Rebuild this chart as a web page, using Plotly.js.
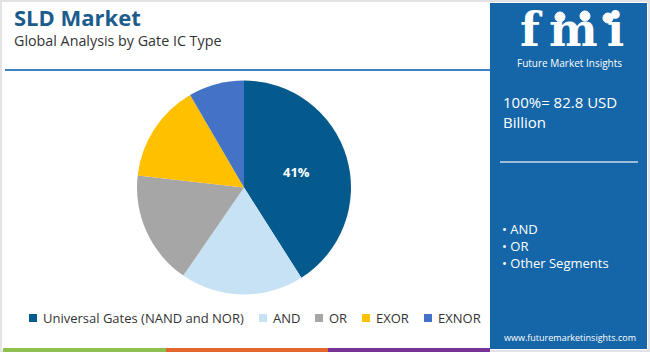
<!DOCTYPE html>
<html>
<head>
<meta charset="utf-8">
<script src="https://cdn.plot.ly/plotly-3.0.1.min.js"></script>
<style>
html,body{margin:0;padding:0;background:#fff;}
#chart{width:650px;height:352px;}
</style>
</head>
<body>
<div id="chart"></div>
<script>
const categories = ["Universal Gates (NAND and NOR)", "AND", "OR", "EXOR", "EXNOR"];
const shares = [41, 18.6, 17.2, 14.8, 8.4];
const sliceColors = ["#045a8d", "#c6e2f4", "#a6a6a6", "#ffc000", "#4472c4"];
const sliceLabels = ["%{percent:.0%}", "", "", "", ""];
const panelTotal = "100%= 82.8 USD<br>Billion";
const panelSegments = ["AND", "OR", "Other Segments"];

const W = 650, H = 352;
const px = x => x / W;
const py = y => 1 - y / H;
const panel = "#1566a8";

const shapes = [
  {type:"rect", xref:"paper", yref:"paper", x0:0, x1:1, y0:0, y1:1, line:{color:"#e3e3e3", width:4}, fillcolor:"rgba(0,0,0,0)", layer:"below"},
  {type:"rect", xref:"paper", yref:"paper", x0:px(490), x1:px(647), y0:py(349), y1:py(3), line:{width:0}, fillcolor:panel, layer:"below"},
  {type:"line", xref:"paper", yref:"paper", x0:px(5), x1:px(490), y0:py(70), y1:py(70), line:{color:"#3f82bf", width:2}},
  {type:"line", xref:"paper", yref:"paper", x0:px(500), x1:px(638), y0:py(162), y1:py(162), line:{color:"#c9dbee", width:1.5}},
  {type:"line", xref:"paper", yref:"paper", x0:px(3), x1:px(166), y0:py(350), y1:py(350), line:{color:"#8dc04f", width:4}},
  {type:"line", xref:"paper", yref:"paper", x0:px(166), x1:px(328), y0:py(350), y1:py(350), line:{color:"#e0662d", width:4}},
  {type:"line", xref:"paper", yref:"paper", x0:px(328), x1:px(490), y0:py(350), y1:py(350), line:{color:"#7b3296", width:4}}
];
// logo stripes
for (let y = 25; y <= 53; y += 4) {
  shapes.push({type:"line", xref:"paper", yref:"paper", x0:px(512), x1:px(632), y0:py(y), y1:py(y), line:{color:panel, width:1.2}, layer:"above"});
}
// logo globes
[[560,17],[585,16],[608,18]].forEach(c => {
  shapes.push({type:"circle", xref:"paper", yref:"paper", x0:px(c[0]-5), x1:px(c[0]+5), y0:py(c[1]+5), y1:py(c[1]-5), line:{color:"#ffffff", width:1}, fillcolor:"#ffffff", layer:"above"});
});

// legend (squares + labels) placed from the category and colour arrays
const legendSquareX = [29, 259, 315, 362, 424];
categories.forEach((c, i) => {
  shapes.push({type:"rect", xref:"paper", yref:"paper", x0:px(legendSquareX[i]), x1:px(legendSquareX[i]+8), y0:py(322), y1:py(314), line:{width:0}, fillcolor:sliceColors[i]});
});

const annotations = [
  {text:"<b>SLD Market</b>", x:px(12), y:py(17), xref:"paper", yref:"paper", xanchor:"left", yanchor:"middle", showarrow:false, font:{family:"Open Sans", size:22, color:"#1b5c8c"}},
  {text:"Global Analysis by Gate IC Type", x:px(12), y:py(41), xref:"paper", yref:"paper", xanchor:"left", yanchor:"middle", showarrow:false, font:{family:"Open Sans", size:14.3, color:"#333333"}},
  {text:"<b>f\u2009m\u2009i</b>", x:px(572), y:py(30), xref:"paper", yref:"paper", xanchor:"center", yanchor:"middle", showarrow:false, font:{family:"DejaVu Serif", size:46, color:"#ffffff"}},
  {text:"Future Market Insights", x:px(569), y:py(63), xref:"paper", yref:"paper", xanchor:"center", yanchor:"middle", showarrow:false, font:{family:"Open Sans", size:10, color:"#ffffff"}},
  {text:panelTotal, x:px(501), y:py(112), xref:"paper", yref:"paper", xanchor:"left", yanchor:"middle", align:"left", showarrow:false, font:{family:"Open Sans", size:15, color:"#ffffff"}},
  {text:panelSegments.map(s => "• " + s).join("<br>"), x:px(500), y:py(246), xref:"paper", yref:"paper", xanchor:"left", yanchor:"middle", align:"left", showarrow:false, font:{family:"Open Sans", size:13, color:"#ffffff"}},
  {text:"www.futuremarketinsights.com", x:px(570), y:py(337), xref:"paper", yref:"paper", xanchor:"center", yanchor:"middle", showarrow:false, font:{family:"Open Sans", size:9, color:"#ffffff"}}
];
categories.forEach((c, i) => {
  annotations.push({text:c, x:px(legendSquareX[i]+12), y:py(318), xref:"paper", yref:"paper", xanchor:"left", yanchor:"middle", showarrow:false, font:{family:"Open Sans", size:13, color:"#333333"}});
});

const trace = {
  type:"pie",
  labels:categories,
  values:shares,
  marker:{colors:sliceColors, line:{width:0}},
  sort:false,
  direction:"clockwise",
  rotation:0,
  textinfo:"text",
  texttemplate:sliceLabels,
  textposition:"inside",
  insidetextfont:{family:"Open Sans", size:13, color:"#ffffff", weight:"bold"},
  domain:{x:[px(137), px(351)], y:[py(295), py(80)]},
  hoverinfo:"label+percent"
};

const layout = {
  width:W, height:H,
  margin:{l:0, r:0, t:0, b:0},
  paper_bgcolor:"#ffffff",
  showlegend:false,
  shapes:shapes,
  annotations:annotations
};

Plotly.newPlot("chart", [trace], layout, {displayModeBar:false, staticPlot:true});
</script>
</body>
</html>
